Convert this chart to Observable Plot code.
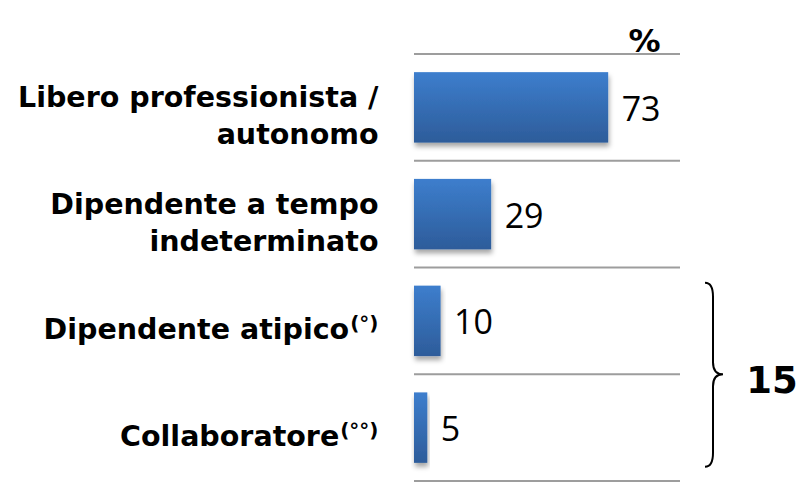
<!DOCTYPE html>
<html><head><meta charset="utf-8">
<script src="https://cdn.jsdelivr.net/npm/d3@7"></script>
<script src="https://cdn.jsdelivr.net/npm/@observablehq/plot@0.6"></script>
<style>body{margin:0;background:#fff}</style>
</head><body><div id="chart"></div>
<script>
const categories = ["Libero professionista /\nautonomo", "Dipendente a tempo\nindeterminato", "Dipendente atipico", "Collaboratore"];
const superscripts = ["", "", "(°)", "(°°)"];
const values = [73, 29, 10, 5];
const unitLabel = "%";
const groupedCategories = ["Dipendente atipico", "Collaboratore"];
const groupTotal = 15;

const data = categories.map((c, i) => ({category: c, value: values[i], sup: superscripts[i]}));

function separators(index, scales) {
  const {x, y} = scales;
  const bw = y.bandwidth(), step = y.step(), off = (step - bw) / 2;
  const ys = categories.map(c => y(c) - off).concat([y(categories[categories.length - 1]) + bw + off]);
  const g = d3.create("svg:g");
  g.selectAll("line").data(ys).join("line")
    .attr("x1", x(0)).attr("x2", x(100))
    .attr("y1", d => d).attr("y2", d => d)
    .attr("stroke", "#9d9d9d").attr("stroke-width", 2);
  return g.node();
}

function brace(index, scales) {
  const {x, y} = scales;
  const bw = y.bandwidth(), step = y.step(), off = (step - bw) / 2;
  const top = y(groupedCategories[0]) - 3;
  const bottom = y(groupedCategories[groupedCategories.length - 1]) + bw + 4;
  const mid = y(groupedCategories[groupedCategories.length - 1]) - off;
  const x0 = x(100) + 25, x1 = x0 + 8, xt = x0 + 18;
  const p = d3.path();
  p.moveTo(x0, top);
  p.quadraticCurveTo(x1, top, x1, top + 14);
  p.lineTo(x1, mid - 12);
  p.quadraticCurveTo(x1, mid, xt, mid);
  p.quadraticCurveTo(x1, mid, x1, mid + 12);
  p.lineTo(x1, bottom - 14);
  p.quadraticCurveTo(x1, bottom, x0, bottom);
  const g = d3.create("svg:g");
  g.append("path").attr("d", p.toString()).attr("fill", "none").attr("stroke", "#000").attr("stroke-width", 2);
  g.append("text").attr("x", xt + 49).attr("y", mid + 19)
    .attr("text-anchor", "middle").attr("font-size", 37).attr("font-weight", "bold")
    .attr("font-family", "'DejaVu Sans', sans-serif").attr("fill", "#000")
    .text(String(groupTotal));
  return g.node();
}

const plot = Plot.plot({
  width: 807, height: 484,
  marginLeft: 414, marginRight: 127, marginTop: 54, marginBottom: 3,
  style: {fontFamily: "'DejaVu Sans', sans-serif", background: "#fff", color: "#000"},
  x: {domain: [0, 100], axis: null},
  y: {domain: categories, axis: null, paddingInner: 0.34, paddingOuter: 0.17, round: false},
  marks: [
    separators,
    Plot.barX(data, {y: "category", x: "value", fill: "url(#barGradient)"}),
    Plot.text(data, {y: "category", x: "value", text: d => String(d.value), textAnchor: "start", dx: 13, dy: 2, fontSize: 34, fontFamily: "'Open Sans', sans-serif", fill: "#000"}),
    Plot.text(data, {y: "category", x: 0, text: "category", textAnchor: "end", dx: -36, dy: 6, fontSize: 28.5, fontWeight: "bold", lineHeight: 1.3, fill: "#000"}),
    Plot.text([unitLabel], {frameAnchor: "top-right", text: d => d, textAnchor: "middle", dx: -36, dy: -25, fontSize: 32, fontWeight: "bold", fill: "#000"}),
    brace
  ]
});

const svg = d3.select(plot);
const defs = svg.insert("defs", ":first-child");
const grad = defs.append("linearGradient").attr("id", "barGradient").attr("x1", 0).attr("x2", 0).attr("y1", 0).attr("y2", 1);
grad.append("stop").attr("offset", "0%").attr("stop-color", "#3d7ecd");
grad.append("stop").attr("offset", "100%").attr("stop-color", "#2d5c9a");
const filt = defs.append("filter").attr("id", "barShadow").attr("x", "-20%").attr("y", "-20%").attr("width", "140%").attr("height", "150%");
filt.append("feDropShadow").attr("dx", 1).attr("dy", 4).attr("stdDeviation", 2.5).attr("flood-color", "#000").attr("flood-opacity", 0.35);
svg.selectAll("g[aria-label=bar] rect").attr("filter", "url(#barShadow)");

svg.selectAll("text").each(function() {
  const i = categories.indexOf(this.textContent);
  if (i >= 0 && superscripts[i]) {
    d3.select(this).append("tspan").attr("font-size", 20).attr("dy", -9).attr("dx", 1).text(superscripts[i]);
  }
});

document.getElementById("chart").appendChild(plot);
</script>
</body></html>
